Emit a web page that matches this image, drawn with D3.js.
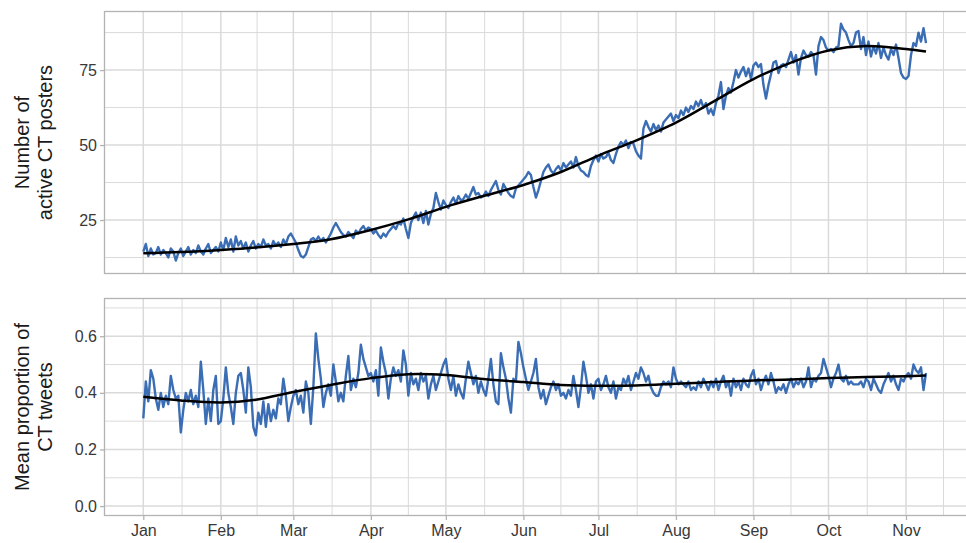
<!DOCTYPE html>
<html>
<head>
<meta charset="utf-8">
<script src="https://cdn.jsdelivr.net/npm/d3@7"></script>
<style>
  html, body { margin: 0; padding: 0; background: #ffffff; }
  svg { display: block; }
  text { font-family: "Liberation Sans", Arial, sans-serif; }
</style>
</head>
<body>
<svg id="chart" width="966" height="543"></svg>
<script>
// ---------- DATA (daily, starting 2020-01-01) ----------
const startDate = "2020-01-01";

const monthLabels = ["Jan","Feb","Mar","Apr","May","Jun","Jul","Aug","Sep","Oct","Nov"];
const topTicks = [25, 50, 75];
const bottomTicks = [0.0, 0.2, 0.4, 0.6];

// Number of active CT posters (daily)
const posters = [
  14.5,17.0,13.0,15.5,13.5,14.0,16.0,13.5,15.0,14.0,
  12.5,15.5,14.5,11.5,14.0,15.5,13.0,14.5,16.0,13.5,
  15.0,14.0,16.5,14.5,13.5,15.5,17.0,14.0,15.0,16.0,
  14.5,17.5,15.0,19.0,16.0,18.5,14.5,19.5,16.5,18.0,
  15.5,17.5,14.5,16.5,18.0,15.5,17.0,16.0,18.5,16.5,
  17.0,15.5,18.0,16.5,17.5,16.0,18.5,17.0,19.5,20.5,
  19.0,17.5,15.0,13.0,12.5,13.5,16.0,18.5,19.0,18.0,
  19.5,18.0,19.0,17.5,19.0,20.5,22.5,24.0,22.5,21.0,
  20.0,19.5,21.0,20.0,19.0,21.5,20.5,22.0,23.0,21.5,
  22.5,22.0,20.5,21.5,20.0,19.0,20.5,19.5,21.0,22.0,
  23.0,22.0,24.0,23.5,25.5,22.0,19.0,24.0,26.0,27.5,
  25.0,27.5,24.0,28.0,23.5,27.0,29.0,34.0,31.0,28.5,
  31.5,30.0,29.0,31.0,32.5,30.5,33.0,31.5,32.0,33.5,
  32.0,34.0,36.0,33.5,34.0,32.5,33.0,34.5,33.0,35.0,
  36.5,38.0,35.0,33.5,37.0,35.5,34.0,33.0,32.5,35.5,
  36.5,37.5,38.5,39.5,41.0,40.0,36.0,32.5,35.0,38.0,
  41.0,42.5,43.5,41.5,40.5,42.0,43.0,41.5,44.0,42.5,
  43.5,44.5,42.5,46.0,43.0,41.5,41.0,40.0,39.5,43.0,
  45.0,46.5,44.5,47.0,45.5,46.0,47.5,45.0,44.0,47.0,
  49.5,51.0,50.0,51.5,49.0,51.0,50.5,48.0,46.5,45.5,
  55.5,58.0,56.0,54.5,57.0,55.0,56.5,54.5,57.5,58.5,
  59.5,60.5,58.0,60.0,59.0,61.5,60.0,62.5,61.0,63.0,
  62.0,64.5,63.0,65.0,62.5,64.0,60.5,62.0,60.0,64.0,
  66.5,71.0,62.0,66.5,69.0,67.5,71.0,75.0,72.5,74.5,
  76.0,73.0,75.5,72.0,76.5,77.5,76.0,77.0,70.0,65.5,
  70.0,73.5,77.5,78.0,74.0,76.5,77.0,76.0,78.5,81.0,
  77.5,80.0,73.5,79.0,81.5,80.0,79.5,81.0,80.0,73.5,
  83.0,86.0,85.0,82.5,81.5,82.0,81.0,82.5,83.0,90.5,
  88.5,87.5,85.0,83.0,84.0,87.5,88.0,82.0,86.0,80.0,
  84.5,79.5,83.0,80.5,84.0,79.0,82.5,80.0,78.5,82.0,
  80.0,83.5,79.0,74.0,72.5,72.0,73.0,80.0,84.0,83.0,
  87.5,84.5,89.0,84.0
];

// Smoothed trend of posters: day index and value
const postersSmoothDay = [0, 15, 31, 45, 60, 75, 91, 106, 121, 136, 152, 167, 182, 197, 213, 228, 244, 259, 274, 289, 305, 313];
const postersSmooth    = [13.9, 14.3, 15.0, 15.8, 17.0, 18.6, 21.7, 25.2, 29.4, 33.0, 36.7, 41.0, 46.5, 51.5, 57.5, 64.5, 72.0, 77.5, 81.5, 83.0, 82.0, 81.2];

// Mean proportion of CT tweets (daily)
const proportion = [
  0.31,0.44,0.37,0.48,0.45,0.38,0.34,0.40,0.35,0.39,
  0.36,0.46,0.41,0.38,0.39,0.26,0.34,0.40,0.37,0.41,
  0.36,0.39,0.35,0.51,0.41,0.29,0.38,0.30,0.41,0.46,
  0.29,0.30,0.38,0.49,0.40,0.35,0.29,0.40,0.46,0.47,
  0.41,0.33,0.49,0.42,0.28,0.25,0.33,0.29,0.37,0.28,
  0.36,0.30,0.34,0.31,0.38,0.36,0.45,0.39,0.30,0.35,
  0.39,0.41,0.36,0.39,0.33,0.44,0.40,0.29,0.42,0.61,
  0.52,0.45,0.35,0.40,0.43,0.39,0.50,0.44,0.37,0.40,
  0.37,0.46,0.53,0.41,0.45,0.42,0.47,0.57,0.52,0.49,
  0.46,0.47,0.44,0.48,0.39,0.56,0.51,0.47,0.38,0.45,
  0.49,0.46,0.48,0.44,0.55,0.50,0.39,0.47,0.43,0.45,
  0.41,0.47,0.44,0.46,0.38,0.43,0.46,0.41,0.44,0.47,
  0.50,0.52,0.45,0.41,0.46,0.39,0.43,0.40,0.38,0.45,
  0.51,0.47,0.43,0.46,0.40,0.44,0.41,0.39,0.45,0.52,
  0.43,0.37,0.36,0.54,0.49,0.45,0.38,0.33,0.45,0.44,
  0.58,0.54,0.49,0.45,0.41,0.44,0.47,0.52,0.42,0.38,
  0.41,0.36,0.39,0.42,0.44,0.41,0.43,0.39,0.40,0.38,
  0.41,0.39,0.46,0.41,0.35,0.42,0.51,0.46,0.40,0.43,
  0.38,0.44,0.45,0.41,0.43,0.46,0.42,0.40,0.44,0.38,
  0.42,0.41,0.45,0.43,0.46,0.41,0.44,0.47,0.45,0.49,
  0.47,0.44,0.46,0.42,0.40,0.39,0.39,0.42,0.44,0.43,
  0.44,0.42,0.49,0.45,0.43,0.44,0.43,0.42,0.44,0.41,
  0.42,0.41,0.44,0.42,0.45,0.43,0.41,0.44,0.42,0.45,
  0.41,0.44,0.46,0.42,0.44,0.39,0.45,0.42,0.44,0.41,
  0.45,0.43,0.42,0.46,0.48,0.43,0.45,0.41,0.44,0.46,
  0.43,0.47,0.44,0.40,0.42,0.41,0.43,0.40,0.43,0.45,
  0.42,0.44,0.43,0.45,0.42,0.44,0.49,0.42,0.45,0.44,
  0.46,0.47,0.52,0.49,0.46,0.42,0.45,0.47,0.50,0.45,
  0.44,0.46,0.43,0.44,0.43,0.43,0.43,0.44,0.42,0.45,
  0.44,0.41,0.45,0.43,0.41,0.40,0.43,0.45,0.47,0.44,
  0.46,0.43,0.41,0.45,0.44,0.46,0.47,0.45,0.50,0.48,
  0.47,0.49,0.41,0.47
];

const proportionSmoothDay = [0, 15, 31, 45, 60, 75, 91, 106, 121, 136, 152, 167, 182, 197, 213, 228, 244, 259, 274, 289, 305, 313];
const proportionSmooth    = [0.386, 0.373, 0.366, 0.376, 0.403, 0.428, 0.452, 0.466, 0.463, 0.449, 0.438, 0.428, 0.425, 0.426, 0.432, 0.438, 0.444, 0.447, 0.452, 0.456, 0.459, 0.461];

// ---------- LAYOUT ----------
const W = 966, H = 543;
const panelLeft = 104, panelRight = 968;
const topPanel = {top: 11, bottom: 274};
const botPanel = {top: 298, bottom: 516};

const COL_BLUE = "#3a6db4";
const COL_GRID = "#dadada";
const COL_BORDER = "#b3b3b3";
const COL_TEXT = "#383838";

const svg = d3.select("#chart");
svg.append("rect").attr("width", W).attr("height", H).attr("fill", "#fff");

const t0 = new Date(startDate + "T00:00:00Z");
const dayDate = i => d3.utcDay.offset(t0, i);

const x = d3.scaleUtc()
  .domain([new Date(Date.UTC(2020,0,1)), new Date(Date.UTC(2020,10,1))])
  .range([143.3, 906]);

const monthDates = monthLabels.map((m, i) => new Date(Date.UTC(2020, i, 1)));
const extMonths = [new Date(Date.UTC(2019,11,1))].concat(monthDates, [new Date(Date.UTC(2020,11,1))]);
const minorX = [];
for (let i = 0; i < extMonths.length - 1; i++) {
  minorX.push((x(extMonths[i]) + x(extMonths[i+1])) / 2);
}

const yTop = d3.scaleLinear().domain([7, 94.7]).range([topPanel.bottom, topPanel.top]);
const yBot = d3.scaleLinear().domain([-0.035, 0.735]).range([botPanel.bottom, botPanel.top]);

function drawPanel(p, y, ticks, minorTicks, series, smoothDays, smoothVals, clipId, fmt) {
  const g = svg.append("g");
  const h = p.bottom - p.top;
  svg.append("clipPath").attr("id", clipId)
    .append("rect").attr("x", panelLeft).attr("y", p.top).attr("width", panelRight - panelLeft).attr("height", h);

  g.selectAll(".mx").data(minorX).join("line")
    .attr("x1", d => d).attr("x2", d => d).attr("y1", p.top).attr("y2", p.bottom)
    .attr("stroke", COL_GRID).attr("stroke-width", 1).attr("clip-path", `url(#${clipId})`);
  g.selectAll(".my").data(minorTicks).join("line")
    .attr("x1", panelLeft).attr("x2", panelRight).attr("y1", d => y(d)).attr("y2", d => y(d))
    .attr("stroke", COL_GRID).attr("stroke-width", 1);
  g.selectAll(".Mx").data(monthDates).join("line")
    .attr("x1", d => x(d)).attr("x2", d => x(d)).attr("y1", p.top).attr("y2", p.bottom)
    .attr("stroke", COL_GRID).attr("stroke-width", 1.5);
  g.selectAll(".My").data(ticks).join("line")
    .attr("x1", panelLeft).attr("x2", panelRight).attr("y1", d => y(d)).attr("y2", d => y(d))
    .attr("stroke", COL_GRID).attr("stroke-width", 1.5);

  const line = d3.line().x((d, i) => x(dayDate(i))).y(d => y(d));
  g.append("path").datum(series)
    .attr("d", line)
    .attr("fill", "none").attr("stroke", COL_BLUE).attr("stroke-width", 2.4)
    .attr("stroke-linejoin", "round")
    .attr("clip-path", `url(#${clipId})`);

  const smooth = d3.line().curve(d3.curveCatmullRom.alpha(0.5))
    .x((d, i) => x(dayDate(smoothDays[i]))).y(d => y(d));
  g.append("path").datum(smoothVals)
    .attr("d", smooth)
    .attr("fill", "none").attr("stroke", "#000").attr("stroke-width", 2.5)
    .attr("clip-path", `url(#${clipId})`);

  g.append("rect").attr("x", panelLeft + 0.5).attr("y", p.top + 0.5)
    .attr("width", panelRight - panelLeft).attr("height", h - 1)
    .attr("fill", "none").attr("stroke", COL_BORDER).attr("stroke-width", 1.3);

  const ax = d3.axisLeft(y).tickValues(ticks).tickSize(4).tickPadding(3).tickFormat(fmt);
  const ag = svg.append("g").attr("transform", `translate(${panelLeft},0)`).call(ax);
  ag.select(".domain").remove();
  ag.selectAll(".tick line").attr("stroke", COL_BORDER).attr("stroke-width", 1.3);
  ag.selectAll(".tick text").attr("fill", COL_TEXT).attr("font-size", 16)
    .attr("font-family", "Liberation Sans, Arial, sans-serif");
  return g;
}

drawPanel(topPanel, yTop, topTicks, [12.5, 37.5, 62.5, 87.5], posters,
  postersSmoothDay, postersSmooth, "clipTop", d => d3.format("d")(d));
drawPanel(botPanel, yBot, bottomTicks, [0.1, 0.3, 0.5, 0.7], proportion,
  proportionSmoothDay, proportionSmooth, "clipBot", d => d3.format(".1f")(d));

const xAxis = d3.axisBottom(x).tickValues(monthDates).tickSize(4).tickPadding(5)
  .tickFormat((d, i) => monthLabels[i]);
const xg = svg.append("g").attr("transform", `translate(0,${botPanel.bottom})`).call(xAxis);
xg.select(".domain").remove();
xg.selectAll(".tick line").attr("stroke", COL_BORDER).attr("stroke-width", 1.3);
xg.selectAll(".tick text").attr("fill", COL_TEXT).attr("font-size", 16)
  .attr("font-family", "Liberation Sans, Arial, sans-serif");

function yTitle(lines, cy) {
  const xs = [22, 45];
  lines.forEach((t, i) => {
    svg.append("text")
      .attr("transform", `translate(${xs[i]},${cy}) rotate(-90)`)
      .attr("text-anchor", "middle").attr("dominant-baseline", "central")
      .attr("font-size", 20).attr("fill", "#1a1a1a")
      .text(t);
  });
}
yTitle(["Number of", "active CT posters"], (topPanel.top + topPanel.bottom) / 2);
yTitle(["Mean proportion of", "CT tweets"], (botPanel.top + botPanel.bottom) / 2);
</script>
</body>
</html>
